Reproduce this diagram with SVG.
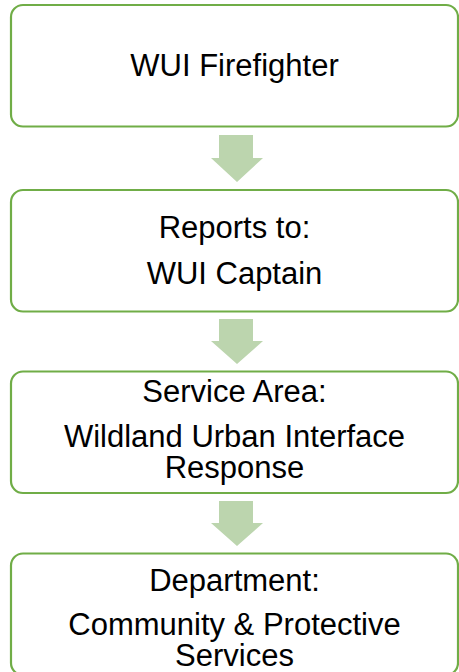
<svg xmlns="http://www.w3.org/2000/svg" width="459" height="672" viewBox="0 0 459 672">
<style>
.box{fill:#ffffff;stroke:#70AD47;stroke-width:2.2}
.arr{fill:#BCD5AE;stroke:none}
text{font-family:"Liberation Sans",Arial,sans-serif;font-size:31px;fill:#000000;text-anchor:middle}
</style>
<rect width="459" height="672" fill="#ffffff"/>
<g id="connectors">
<polygon class="arr" points="219,135 253,135 253,158 263,158 237,182 211,158 219,158"/>
<polygon class="arr" points="219,319 253,319 253,341 263,341 237,364 211,341 219,341"/>
<polygon class="arr" points="219,501 253,501 253,523 263,523 237,546 211,523 219,523"/>
</g>
<g id="node1">
<rect class="box" x="11" y="5" width="447" height="121.5" rx="12"/>
<text x="234.5" y="76">WUI Firefighter</text>
</g>
<g id="node2">
<rect class="box" x="11" y="190" width="447" height="121.5" rx="12"/>
<text x="234.5" y="237.5">Reports to:</text>
<text x="234.5" y="283.5">WUI Captain</text>
</g>
<g id="node3">
<rect class="box" x="11" y="371.5" width="447" height="121.5" rx="12"/>
<text x="234.5" y="401.5">Service Area:</text>
<text x="234.5" y="447">Wildland Urban Interface</text>
<text x="234.5" y="478">Response</text>
</g>
<g id="node4">
<rect class="box" x="11" y="553.5" width="447" height="121.5" rx="12"/>
<text x="234.5" y="591">Department:</text>
<text x="234.5" y="634.5">Community &amp; Protective</text>
<text x="234.5" y="666">Services</text>
</g>
</svg>
